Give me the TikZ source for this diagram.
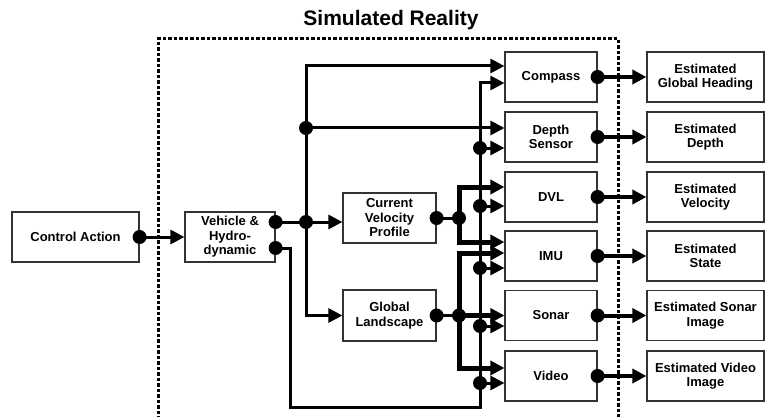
\documentclass[tikz,border=0pt]{standalone}
\usepackage{fontspec}
\setmainfont{Liberation Sans}
\usetikzlibrary{arrows.meta}
\begin{document}
\begin{tikzpicture}[x=1pt,y=-1pt,
  >={Triangle[length=14pt,width=14pt]},
  box/.style={draw=black!80, line width=1.2pt, fill=white, minimum width=92pt,
    minimum height=50pt, inner sep=0pt, align=center,
    font=\fontsize{13}{14.5}\selectfont\bfseries},
  estbox/.style={box, minimum width=117pt},
  wire/.style={line width=3pt},
  bus/.style={line width=5pt},
  outwire/.style={line width=4pt},
  frame/.style={line width=3pt, dash pattern=on 3.5pt off 2pt},
  dotr/.store in=\dotr, dotr=7pt
]
\useasboundingbox (0,0) rectangle (765,417);

% title and boundary of the simulated part
\node[font=\fontsize{21}{25}\selectfont\bfseries] (title) at (391,20) {Simulated Reality};
\draw[frame] (158,425) -- (158,39) -- (618,39) -- (618,425);

% blocks
\node[box, minimum width=127pt] (ctrl) at (75.5,237) {Control Action};
\node[box, minimum width=90pt] (veh) at (230,237) {Vehicle \&\\Hydro-\\dynamic};
\node[box, minimum width=93pt] (cvp) at (389.5,218) {Current\\Velocity\\Profile};
\node[box, minimum width=93pt, minimum height=51pt] (gl) at (389.5,315.5) {Global\\Landscape};

\node[box] (cmp) at (551,77)    {Compass};
\node[box] (dep) at (551,137)   {Depth\\Sensor};
\node[box] (dvl) at (551,197)   {DVL};
\node[box] (imu) at (551,256)   {IMU};
\node[box] (son) at (551,315.5) {Sonar};
\node[box] (vid) at (551,376)   {Video};

\node[estbox] (eh)  at (705.5,77)    {Estimated\\Global Heading};
\node[estbox] (ed)  at (705.5,137)   {Estimated\\Depth};
\node[estbox] (ev)  at (705.5,197)   {Estimated\\Velocity};
\node[estbox] (es)  at (705.5,256)   {Estimated\\State};
\node[estbox] (eso) at (705.5,315.5) {Estimated Sonar\\Image};
\node[estbox] (evi) at (705.5,376)   {Estimated Video\\Image};

% routing points
\coordinate (vo1) at ([yshift=15pt]veh.east);
\coordinate (vo2) at ([yshift=-11pt]veh.east);
\coordinate (lbT) at (306,66);
\coordinate (lbA) at (306,128);
\coordinate (lbB) at (306,222);
\coordinate (lbC) at (306,315.5);
\coordinate (lTop) at (290,248);
\coordinate (lBot) at (290,407);
\coordinate (rBot) at (480,407);
\coordinate (rT) at (480,83);
\coordinate (t1) at (480,148);
\coordinate (t2) at (480,206);
\coordinate (t3) at (480,268);
\coordinate (t4) at (480,326);
\coordinate (t5) at (480,383);
\coordinate (cj) at (459,218);
\coordinate (cT) at (459,187);
\coordinate (cB) at (459,242);
\coordinate (gj) at (459,315.5);
\coordinate (gT) at (459,253);
\coordinate (gB) at (459,368);

% control input
\draw[wire,->] (ctrl.east) -- (veh.west);

% vehicle state distribution
\draw[wire,<->] (lbT -| cmp.west) -- (lbT) -- (lbC) -- (gl.west);
\draw[wire,->] (lbA) -- (lbA -| dep.west);
\draw[wire,->] (vo1) -- (vo1 -| cvp.west);

% return path feeding every sensor
\draw[wire,->] (vo2) -- (lTop) -- (lBot) -- (rBot) -- (rT) -- (rT -| cmp.west);
\draw[wire,->] (t1) -- (t1 -| dep.west);
\draw[wire,->] (t2) -- (t2 -| dvl.west);
\draw[wire,->] (t3) -- (t3 -| imu.west);
\draw[wire,->] (t4) -- (t4 -| son.west);
\draw[wire,->] (t5) -- (t5 -| vid.west);

% current velocity profile bus
\draw[wire] (cvp.east) -- (cj);
\draw[bus,<->] (cT -| dvl.west) -- (cT) -- (cB) -- (cB -| imu.west);

% global landscape bus
\draw[wire] (gl.east) -- (gj);
\draw[bus,->] (gj) -- (gj -| son.west);
\draw[bus,<->] (gT -| imu.west) -- (gT) -- (gB) -- (gB -| vid.west);

% sensor outputs
\draw[outwire,->] (cmp.east) -- (eh.west);
\draw[outwire,->] (dep.east) -- (ed.west);
\draw[outwire,->] (dvl.east) -- (ev.west);
\draw[outwire,->] (imu.east) -- (es.west);
\draw[outwire,->] (son.east) -- (eso.west);
\draw[outwire,->] (vid.east) -- (evi.west);

% connection dots
\foreach \p in {ctrl.east, vo1, vo2, lbA, lbB, cvp.east, cj, gl.east, gj,
                t1, t2, t3, t4, t5,
                cmp.east, dep.east, dvl.east, imu.east, son.east, vid.east}
  \fill (\p) circle (\dotr);
\end{tikzpicture}
\end{document}
